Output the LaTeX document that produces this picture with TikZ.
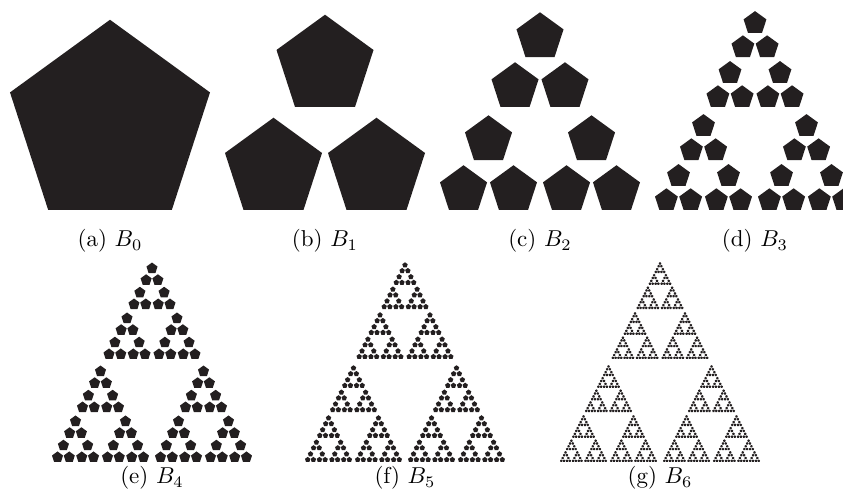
\documentclass[tikz,border=0pt]{standalone}
\usepackage{tikz}
\usetikzlibrary{positioning}

\definecolor{pentfill}{RGB}{35,31,32}

% contraction ratio and shift of the three maps
\newcommand{\pr}{0.485}
\newcommand{\pa}{103}

% B_n: n-fold image of the pentagon under the three maps
\newcommand{\pentlevel}[1]{%
  \ifnum\numexpr#1\relax=0
    \fill[pentfill, shift={(100,85.07)}]
      (90:105.15) -- (162:105.15) -- (234:105.15) -- (306:105.15) -- (18:105.15) -- cycle;
  \else
    \begin{scope}[scale=\pr]\pentlevel{\numexpr#1-1\relax}\end{scope}
    \begin{scope}[shift={(\pa,0)}, scale=\pr]\pentlevel{\numexpr#1-1\relax}\end{scope}
    \begin{scope}[shift={(\pa/2,\pa)}, scale=\pr]\pentlevel{\numexpr#1-1\relax}\end{scope}
  \fi}

\begin{document}
\begin{tikzpicture}[x=0.435pt, y=0.435pt,
  subcap/.style={anchor=base, inner sep=0pt, font=\normalsize}]

\useasboundingbox (0,0) rectangle (843,502);

% Panels: level / lower left corner / caption baseline / label
\foreach \lvl/\bx/\by/\cy/\lab in {0/10/292/255/a, 1/225/292/255/b, 2/440/292/255/c,
    3/655/292/255/d, 4/52/40/18/e, 5/305/40/18/f, 6/560/40/18/g}{
  \begin{scope}[shift={(\bx,\by)}]
    \pentlevel{\lvl}
  \end{scope}
  \node[subcap] (cap\lab) at (\bx+100,\cy) {(\lab) $B_{\lvl}$};
}

\end{tikzpicture}
\end{document}
